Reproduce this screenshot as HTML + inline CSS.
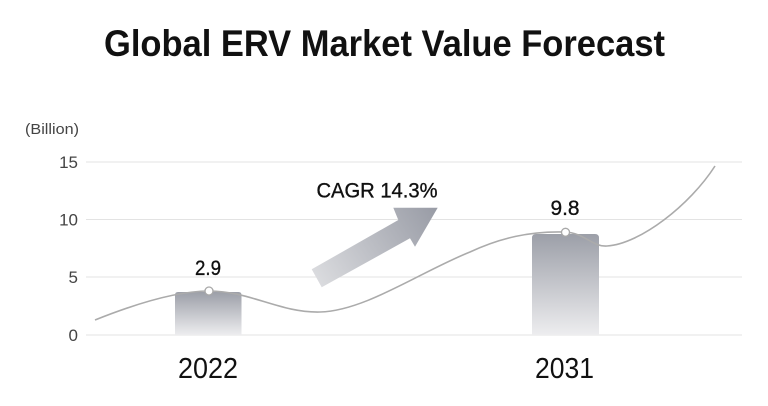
<!DOCTYPE html>
<html>
<head>
<meta charset="utf-8">
<style>
  html, body { margin: 0; padding: 0; background: #ffffff; }
  body { width: 768px; height: 406px; overflow: hidden; }
  svg { display: block; }
  text { font-family: "Liberation Sans", "DejaVu Sans", sans-serif; }
</style>
</head>
<body>
<svg width="768" height="406" viewBox="0 0 768 406" xmlns="http://www.w3.org/2000/svg">
  <defs>
    <linearGradient id="barGrad" x1="0" y1="0" x2="0" y2="1">
      <stop offset="0" stop-color="#9c9fa8"/>
      <stop offset="1" stop-color="#ededef"/>
    </linearGradient>
    <linearGradient id="arrowGrad" x1="438" y1="208" x2="316" y2="285" gradientUnits="userSpaceOnUse">
      <stop offset="0" stop-color="#989ba5"/>
      <stop offset="1" stop-color="#dcdde0"/>
    </linearGradient>
  </defs>

  <rect width="768" height="406" fill="#ffffff"/>

  <!-- Title -->
  <text x="104" y="56" font-size="37" font-weight="bold" fill="#111111" textLength="561" lengthAdjust="spacingAndGlyphs">Global ERV Market Value Forecast</text>

  <!-- Unit label -->
  <text x="25" y="134" font-size="14.5" fill="#444444" textLength="54" lengthAdjust="spacingAndGlyphs">(Billion)</text>

  <!-- Gridlines -->
  <g stroke="#e3e3e3" stroke-width="1">
    <line x1="86" y1="162" x2="742" y2="162"/>
    <line x1="86" y1="219.5" x2="742" y2="219.5"/>
    <line x1="86" y1="277" x2="742" y2="277"/>
    <line x1="86" y1="335" x2="742" y2="335"/>
  </g>

  <!-- Y labels -->
  <g font-size="17" fill="#444444" text-anchor="end">
    <text x="78" y="168">15</text>
    <text x="78" y="225.5">10</text>
    <text x="78" y="283">5</text>
    <text x="78" y="341">0</text>
  </g>

  <!-- Bars -->
  <path d="M175,335 L175,295 Q175,292 178,292 L238.5,292 Q241.5,292 241.5,295 L241.5,335 Z" fill="url(#barGrad)"/>
  <path d="M532,335 L532,238 Q532,234 536,234 L595,234 Q599,234 599,238 L599,335 Z" fill="url(#barGrad)"/>

  <!-- Arrow -->
  <polygon points="311.7,269.3 398.3,220 393.3,207.7 437.7,207.7 415,246.7 410,238.3 321.7,287.3" fill="url(#arrowGrad)"/>

  <!-- Curve -->
  <path d="M95,320 C140,302 180,291 209,291 C250,291 280,313 320,312 C365,311 420,272 470,252 C500,238 530,231 565,232 C585,233 592,247 607,246 C640,244 690,205 715,166"
        fill="none" stroke="#ababab" stroke-width="1.6"/>

  <!-- Dots -->
  <circle cx="209" cy="291" r="4" fill="#ffffff" stroke="#a8a8a8" stroke-width="1.3"/>
  <circle cx="565.5" cy="232.3" r="4" fill="#ffffff" stroke="#a8a8a8" stroke-width="1.3"/>

  <!-- Value labels -->
  <text x="208" y="275" font-size="21" fill="#111111" stroke="#111111" stroke-width="0.35" text-anchor="middle" textLength="26" lengthAdjust="spacingAndGlyphs">2.9</text>
  <text x="565" y="215" font-size="21" fill="#111111" stroke="#111111" stroke-width="0.35" text-anchor="middle" textLength="29" lengthAdjust="spacingAndGlyphs">9.8</text>

  <!-- CAGR label -->
  <text x="316.5" y="197.5" font-size="21.5" fill="#111111" stroke="#111111" stroke-width="0.35" textLength="121" lengthAdjust="spacingAndGlyphs">CAGR 14.3%</text>

  <!-- X labels -->
  <text x="178" y="378" font-size="29" fill="#111111" textLength="60" lengthAdjust="spacingAndGlyphs">2022</text>
  <text x="535" y="378" font-size="29" fill="#111111" textLength="59" lengthAdjust="spacingAndGlyphs">2031</text>
</svg>
</body>
</html>
